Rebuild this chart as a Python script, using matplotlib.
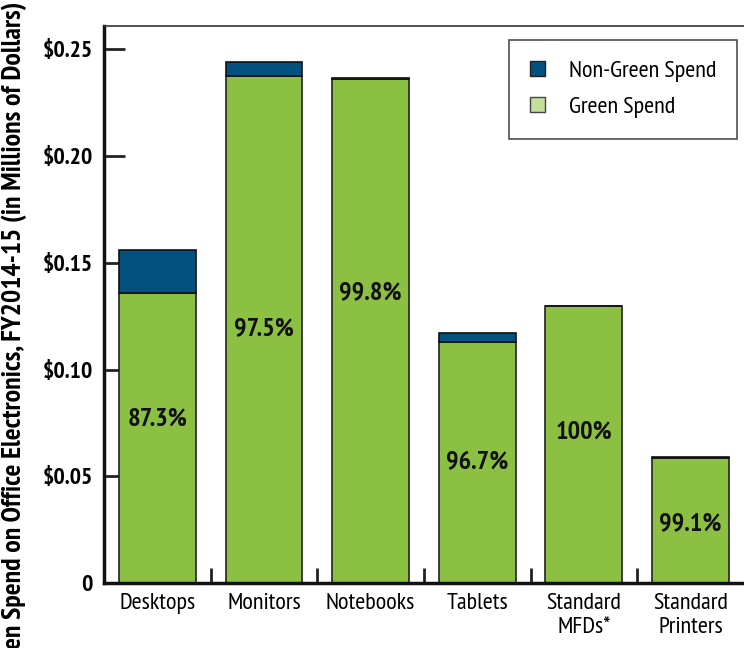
import matplotlib
matplotlib.use("Agg")
import matplotlib.pyplot as plt
from matplotlib.patches import Patch

categories = ["Desktops", "Monitors", "Notebooks", "Tablets", "Standard\nMFDs*", "Standard\nPrinters"]
green = [0.1358, 0.2374, 0.2360, 0.1128, 0.1297, 0.0585]
non_green = [0.0201, 0.0065, 0.0006, 0.0042, 0.0000, 0.0005]
pct_labels = ["87.3%", "97.5%", "99.8%", "96.7%", "100%", "99.1%"]
pct_label_y = [0.077, 0.119, 0.136, 0.0566, 0.0707, 0.028]
yticks = [0, 0.05, 0.10, 0.15, 0.20, 0.25]
ytick_labels = ["0", "$0.05", "$0.10", "$0.15", "$0.20", "$0.25"]
ylabel = "Green and Non-Green Spend on Office Electronics, FY2014-15 (in Millions of Dollars)"

GREEN = "#8cc043"
BLUE = "#02517f"

plt.rcParams["font.family"] = ["PT Sans Narrow", "DejaVu Sans"]

fig = plt.figure(figsize=(7.44, 6.48), dpi=100)
ax = fig.add_axes([104/744, (648-583)/648, (747-104)/744, (583-26)/648])

x = list(range(len(categories)))
ax.bar(x, green, width=0.72, color=GREEN, edgecolor="#222222", linewidth=1.2, zorder=2)
ax.bar(x, non_green, bottom=green, width=0.72, color=BLUE, edgecolor="#111111", linewidth=1.2, zorder=2)

for xi, lab, yy in zip(x, pct_labels, pct_label_y):
    ax.text(xi, yy, lab, ha="center", va="center", fontsize=19, fontweight="bold", color="#111111")

ax.set_xlim(-0.5, 5.53)
ax.set_ylim(0, 0.261)
ax.set_yticks(yticks)
ax.set_yticklabels(ytick_labels, fontsize=17, fontweight="bold")
ax.set_xticks(x)
ax.set_xticklabels(categories, fontsize=17.5, va="top", linespacing=1.2)
ax.set_xticks([i + 0.5 for i in range(5)], minor=True)
ax.tick_params(axis="x", which="major", length=0, pad=7)
ax.tick_params(axis="x", which="minor", direction="in", length=11, width=2, color="#222222")
ax.tick_params(axis="y", direction="in", length=15, width=2, pad=8, color="#222222")

for s in ["left", "bottom"]:
    ax.spines[s].set_linewidth(2.5)
    ax.spines[s].set_color("#111111")
ax.spines["top"].set_linewidth(1.2)
ax.spines["top"].set_color("#333333")
ax.spines["right"].set_visible(False)

handles = [Patch(facecolor=BLUE, edgecolor="#222222", label="Non-Green Spend"),
           Patch(facecolor="#c5de9c", edgecolor="#444444", label="Green Spend")]
leg = ax.legend(handles=handles, loc="upper right", bbox_to_anchor=(737/744, 1 - 40/648),
                bbox_transform=fig.transFigure, fontsize=17.5, frameon=True, fancybox=False,
                edgecolor="#222222", handlelength=0.62, handleheight=0.62, labelspacing=0.6,
                borderpad=0.85, handletextpad=1.0, borderaxespad=0)
leg.get_frame().set_linewidth(1.2)

fig.text(0.019, 0.998, ylabel, rotation=90, ha="center", va="top", fontsize=20, fontweight="bold")

fig.savefig("out.png", dpi=100)
